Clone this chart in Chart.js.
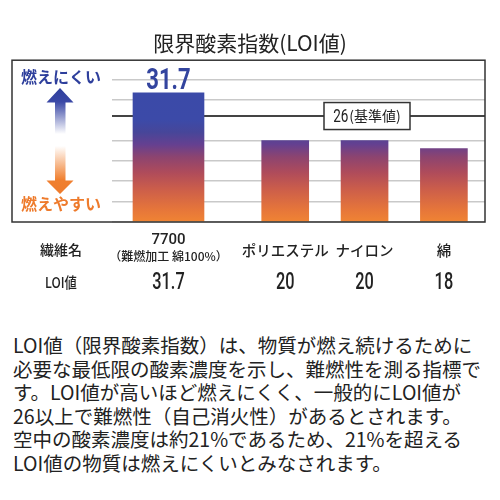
<!DOCTYPE html>
<html lang="ja">
<head>
<meta charset="utf-8">
<script src="https://cdn.jsdelivr.net/npm/chart.js@4.4.1/dist/chart.umd.min.js"></script>
<style>
  body { margin: 0; background: #fff; }
  #wrap { position: relative; width: 500px; height: 500px; }
  #loiChart { position: absolute; left: 0; top: 0; }
  #note {
    position: absolute; left: 13px; top: 333px;
    font-family: 'Noto Sans CJK JP', sans-serif;
    font-size: 19.5px; line-height: 23.5px; color: #222;
    white-space: nowrap;
  }
</style>
</head>
<body>
<div id="wrap">
  <canvas id="loiChart" width="500" height="305"></canvas>
  <div id="note">LOI値（限界酸素指数）は、物質が燃え続けるために<br>必要な最低限の酸素濃度を示し、難燃性を測る指標で<br>す。LOI値が高いほど燃えにくく、一般的にLOI値が<br>26以上で難燃性（自己消火性）があるとされます。<br>空中の酸素濃度は約21%であるため、21%を超える<br>LOI値の物質は燃えにくいとみなされます。</div>
</div>
<script>
// data
const categories = ['7700', 'ポリエステル', 'ナイロン', '綿'];
const subLabels = ['（難燃加工 綿100%）', '', '', ''];
const loiValues = [31.7, 20, 20, 18];
const baseline = 26;
const yTicks = [0, 5, 10, 15, 20, 26, 30, 35];
const rowHeads = ['繊維名', 'LOI値'];

// looks
const barWidths = [71, 47, 47, 47];
const jp = "'Noto Sans CJK JP', sans-serif";
const num = "Roboto, 'Noto Sans CJK JP', sans-serif";
const gradStops = [
  [0, '#f08433'], [3, '#e6763a'], [8, '#cc5e4a'], [12, '#b04c5a'],
  [16, '#8c4470'], [19, '#654090'], [22, '#474699'], [25, '#3c4aa8'], [40, '#3a4aa8']
];

function barGradient(c) {
  const chart = c.chart;
  if (!chart.chartArea) return '#6a3f8a';
  const y = chart.scales.y;
  const g = chart.ctx.createLinearGradient(0, y.getPixelForValue(0), 0, y.getPixelForValue(40));
  gradStops.forEach(([v, col]) => g.addColorStop(v / 40, col));
  return g;
}

// squeezed text, the source uses a condensed face
function narrowText(ctx, text, x, y, font, sx) {
  ctx.save();
  ctx.font = font;
  ctx.translate(x, y);
  ctx.scale(sx, 1);
  ctx.fillText(text, 0, 0);
  ctx.restore();
}

const decor = {
  id: 'decor',
  afterDatasetsDraw(chart) {
    const { ctx, chartArea: a, scales } = chart;
    const y = scales.y;
    const colX = i => (i === 0 ? scales.x0 : scales.x).getPixelForValue(i);
    ctx.save();

    // frame
    ctx.strokeStyle = '#333';
    ctx.lineWidth = 1.5;
    ctx.strokeRect(12, a.top, a.right - 12, a.bottom - a.top);

    // 26 label
    const by = y.getPixelForValue(baseline);
    ctx.fillStyle = '#fff';
    ctx.fillRect(324, by - 13.5, 86, 27);
    ctx.strokeRect(324, by - 13.5, 86, 27);
    ctx.fillStyle = '#222';
    ctx.textBaseline = 'middle';
    ctx.textAlign = 'left';
    ctx.font = '18px ' + num;
    const wNum = ctx.measureText(String(baseline)).width * 0.75;
    ctx.font = '14px ' + jp;
    const wSub = ctx.measureText('(基準値)').width;
    const sx = 367 - (wNum + wSub + 1) / 2;
    narrowText(ctx, String(baseline), sx, by + 1, '18px ' + num, 0.75);
    ctx.font = '14px ' + jp;
    ctx.fillText('(基準値)', sx + wNum + 1, by);

    // value over the top bar
    const top = chart.getDatasetMeta(0).data[0];
    ctx.fillStyle = '#33449e';
    ctx.textAlign = 'center';
    ctx.textBaseline = 'alphabetic';
    narrowText(ctx, String(loiValues[0]), top.x, top.y - 4, 'bold 29px ' + num, 0.76);

    // table under the chart
    ctx.fillStyle = '#222';
    ctx.textBaseline = 'middle';
    ctx.font = '500 14px ' + jp;
    ctx.fillText(rowHeads[0], 61, 250);
    narrowText(ctx, rowHeads[1], 61, 282, '500 15px ' + jp, 0.82);
    categories.forEach((name, i) => {
      const cx = colX(i);
      if (subLabels[i]) {
        ctx.font = '500 15px ' + num;
        ctx.fillText(name, cx, 240);
        ctx.font = '500 12px ' + jp;
        ctx.fillText(subLabels[i], cx, 256);
      } else {
        ctx.font = '500 14.5px ' + jp;
        ctx.fillText(name, cx, 250);
      }
      narrowText(ctx, String(loiValues[i]), cx, 283, '500 24px ' + num, 0.68);
    });

    // left side: hard / easy to burn
    ctx.font = 'bold 16px ' + jp;
    ctx.fillStyle = '#2e3f9c';
    ctx.fillText('燃えにくい', 61, 77);
    ctx.fillStyle = '#ee7b2c';
    ctx.fillText('燃えやすい', 61, 204);

    let g = ctx.createLinearGradient(0, 88, 0, 134);
    g.addColorStop(0, '#2e3f9c');
    g.addColorStop(0.3, '#3a48a6');
    g.addColorStop(1, '#ffffff');
    ctx.fillStyle = g;
    ctx.beginPath();
    ctx.moveTo(60, 88); ctx.lineTo(73.5, 102.5); ctx.lineTo(65.5, 102.5);
    ctx.lineTo(65.5, 134); ctx.lineTo(55, 134); ctx.lineTo(55, 102.5);
    ctx.lineTo(46.5, 102.5); ctx.closePath(); ctx.fill();

    g = ctx.createLinearGradient(0, 146, 0, 194);
    g.addColorStop(0, '#ffffff');
    g.addColorStop(0.7, '#f08030');
    g.addColorStop(1, '#ee7b2c');
    ctx.fillStyle = g;
    ctx.beginPath();
    ctx.moveTo(55, 146); ctx.lineTo(65.5, 146); ctx.lineTo(65.5, 180.5);
    ctx.lineTo(73.5, 180.5); ctx.lineTo(60, 194); ctx.lineTo(46.5, 180.5);
    ctx.lineTo(55, 180.5); ctx.closePath(); ctx.fill();

    ctx.restore();
  }
};

const ctx = document.getElementById('loiChart').getContext('2d');
const chart = new Chart(ctx, {
  type: 'bar',
  data: {
    datasets: loiValues.map((v, i) => ({
      label: categories[i],
      data: [{ x: i, y: v }],
      xAxisID: i === 0 ? 'x0' : 'x',
      backgroundColor: barGradient,
      barThickness: barWidths[i],
      grouped: false
    }))
  },
  options: {
    responsive: false,
    animation: false,
    layout: { padding: { left: 0, right: 0, top: 0, bottom: 83 } },
    plugins: {
      legend: { display: false },
      tooltip: { enabled: false },
      title: {
        display: true,
        text: '限界酸素指数(LOI値)',
        color: '#222',
        font: { family: jp, size: 21, weight: 'normal', lineHeight: 1.2 },
        padding: { top: 30, bottom: 5 }
      }
    },
    scales: {
      // the first (wide) column sits on its own axis
      x0: { type: 'linear', display: false, offset: false, min: -0.712, max: 3.989 },
      x: { type: 'linear', display: false, offset: false, min: -1.183, max: 3.518 },
      y: {
        min: 0,
        max: 39.7,
        afterFit: s => { s.width = 112; },
        afterBuildTicks: s => { s.ticks = yTicks.map(v => ({ value: v })); },
        ticks: { display: false },
        border: { display: false },
        grid: {
          drawTicks: false,
          color: c => (c.tick && c.tick.value === baseline ? '#444' : '#c9c9c9'),
          lineWidth: c => (c.tick && c.tick.value === baseline ? 2 : 1.5)
        }
      },
      yr: {
        type: 'linear',
        position: 'right',
        afterFit: s => { s.width = 15; },
        ticks: { display: false },
        border: { display: false },
        grid: { display: false }
      }
    }
  },
  plugins: [decor]
});
</script>
</body>
</html>
